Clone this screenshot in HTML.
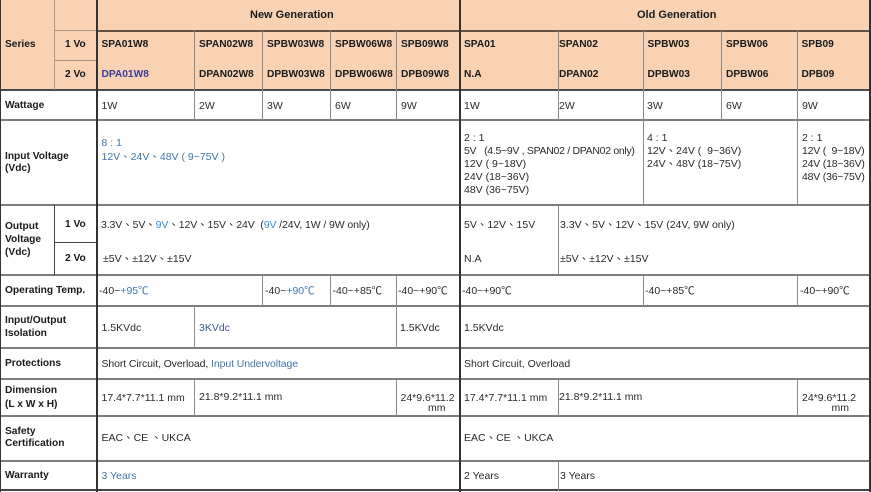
<!DOCTYPE html>
<html><head><meta charset="utf-8">
<style>
html,body{margin:0;padding:0;}
body{width:871px;height:492px;overflow:hidden;background:#fff;position:relative;font-family:"Liberation Sans","Noto Sans CJK TC",sans-serif;color:#222;}
.bg{position:absolute;background:#f9d2b4;}
.h{position:absolute;height:2px;background:#7c7c7c;}
.v{position:absolute;width:1px;background:#8a8a8a;}
.V{position:absolute;width:2px;background:#333;}
.t{position:absolute;white-space:nowrap;line-height:14px;font-size:10.5px;color:#2a2a2a;}
.b{position:absolute;white-space:nowrap;line-height:14px;font-size:10.2px;font-weight:bold;color:#1a1a1a;}
.g{font-size:11px;}
.bl{color:#4275ad;}
.bd{color:#3b3b9c;}
.bk{color:#3d5a8f;}
.lb{color:#3a8fd0;}
</style></head><body>
<div class="bg" style="left:0;top:0;width:871px;height:91px;"></div>

<div class="h" style="left:96px;top:30px;width:775px;background:#5e5249;"></div>
<div class="h" style="left:54px;top:30px;width:42px;height:1px;background:#a89484;"></div>
<div class="h" style="left:54px;top:60px;width:42px;height:1px;background:#a89484;"></div>
<div class="h" style="left:0;top:89px;width:871px;background:#4a4a4a;"></div>
<div class="h" style="left:0;top:119px;width:871px;"></div>
<div class="h" style="left:0;top:204px;width:871px;"></div>
<div class="h" style="left:54px;top:242px;width:42px;height:1px;background:#444;"></div>
<div class="h" style="left:0;top:274px;width:871px;"></div>
<div class="h" style="left:0;top:305px;width:871px;"></div>
<div class="h" style="left:0;top:347px;width:871px;"></div>
<div class="h" style="left:0;top:378px;width:871px;"></div>
<div class="h" style="left:0;top:415px;width:871px;"></div>
<div class="h" style="left:0;top:460px;width:871px;"></div>
<div class="h" style="left:0;top:489px;width:871px;background:#444;"></div>

<div class="v" style="left:54px;top:0;height:90px;background:#b09a88;"></div>
<div class="v" style="left:54px;top:205px;height:70px;background:#444;"></div>
<div class="v" style="left:194px;top:31px;height:89px;"></div>
<div class="v" style="left:262px;top:31px;height:89px;"></div>
<div class="v" style="left:330px;top:31px;height:89px;"></div>
<div class="v" style="left:396px;top:31px;height:89px;"></div>
<div class="v" style="left:558px;top:31px;height:89px;"></div>
<div class="v" style="left:643px;top:31px;height:89px;"></div>
<div class="v" style="left:721px;top:31px;height:89px;"></div>
<div class="v" style="left:797px;top:31px;height:89px;"></div>
<div class="v" style="left:643px;top:120px;height:85px;"></div>
<div class="v" style="left:797px;top:120px;height:85px;"></div>
<div class="v" style="left:558px;top:205px;height:70px;"></div>
<div class="v" style="left:262px;top:275px;height:31px;"></div>
<div class="v" style="left:330px;top:275px;height:31px;"></div>
<div class="v" style="left:396px;top:275px;height:31px;"></div>
<div class="v" style="left:643px;top:275px;height:31px;"></div>
<div class="v" style="left:797px;top:275px;height:31px;"></div>
<div class="v" style="left:194px;top:306px;height:42px;"></div>
<div class="v" style="left:396px;top:306px;height:42px;"></div>
<div class="v" style="left:194px;top:379px;height:37px;"></div>
<div class="v" style="left:396px;top:379px;height:37px;"></div>
<div class="v" style="left:558px;top:379px;height:37px;"></div>
<div class="v" style="left:797px;top:379px;height:37px;"></div>
<div class="v" style="left:558px;top:461px;height:30px;"></div>

<div class="V" style="left:96px;top:0;height:492px;"></div>
<div class="V" style="left:459px;top:0;height:492px;"></div>
<div class="V" style="left:0;top:0;height:492px;width:1px;"></div>
<div class="V" style="left:869px;top:0;height:492px;"></div>

<div class="b" style="left:5px;top:38px;">Series</div>
<div class="b" style="left:65px;top:38px;">1 Vo</div>
<div class="b" style="left:65px;top:68px;">2 Vo</div>
<div class="b g" style="left:250px;top:8px;">New Generation</div>
<div class="b g" style="left:637px;top:8px;">Old Generation</div>

<div class="b" style="left:101.5px;top:38px;">SPA01W8</div>
<div class="b" style="left:199px;top:38px;">SPAN02W8</div>
<div class="b" style="left:267px;top:38px;">SPBW03W8</div>
<div class="b" style="left:335px;top:38px;">SPBW06W8</div>
<div class="b" style="left:401px;top:38px;">SPB09W8</div>
<div class="b" style="left:464px;top:38px;">SPA01</div>
<div class="b" style="left:559px;top:38px;">SPAN02</div>
<div class="b" style="left:647.5px;top:38px;">SPBW03</div>
<div class="b" style="left:726px;top:38px;">SPBW06</div>
<div class="b" style="left:801.5px;top:38px;">SPB09</div>

<div class="b bd" style="left:101.5px;top:68px;">DPA01W8</div>
<div class="b" style="left:199px;top:68px;">DPAN02W8</div>
<div class="b" style="left:267px;top:68px;">DPBW03W8</div>
<div class="b" style="left:335px;top:68px;">DPBW06W8</div>
<div class="b" style="left:401px;top:68px;">DPB09W8</div>
<div class="b" style="left:464px;top:68px;">N.A</div>
<div class="b" style="left:559px;top:68px;">DPAN02</div>
<div class="b" style="left:647.5px;top:68px;">DPBW03</div>
<div class="b" style="left:726px;top:68px;">DPBW06</div>
<div class="b" style="left:801.5px;top:68px;">DPB09</div>

<div class="b" style="left:5px;top:99px;">Wattage</div>
<div class="t" style="left:101.5px;top:99px;">1W</div>
<div class="t" style="left:199px;top:99px;">2W</div>
<div class="t" style="left:267px;top:99px;">3W</div>
<div class="t" style="left:335px;top:99px;">6W</div>
<div class="t" style="left:401px;top:99px;">9W</div>
<div class="t" style="left:464px;top:99px;">1W</div>
<div class="t" style="left:559px;top:99px;">2W</div>
<div class="t" style="left:647px;top:99px;">3W</div>
<div class="t" style="left:726px;top:99px;">6W</div>
<div class="t" style="left:802px;top:99px;">9W</div>

<div class="b" style="left:5px;top:149.5px;">Input Voltage</div>
<div class="b" style="left:5px;top:161.5px;">(Vdc)</div>
<div class="t bl" style="left:101.5px;top:136px;">8 : 1</div>
<div class="t bl" style="left:101.5px;top:150px;">12V、24V、48V ( 9~75V )</div>

<div class="t" style="left:464px;top:130.5px;">2 : 1</div>
<div class="t" style="left:464px;top:143.5px;letter-spacing:-0.3px;">5V&nbsp;&nbsp; (4.5~9V , SPAN02 / DPAN02 only)</div>
<div class="t" style="left:464px;top:156.5px;">12V ( 9~18V)</div>
<div class="t" style="left:464px;top:169.5px;">24V (18~36V)</div>
<div class="t" style="left:464px;top:182.5px;">48V (36~75V)</div>

<div class="t" style="left:647px;top:130.5px;">4 : 1</div>
<div class="t" style="left:647px;top:143.5px;">12V、24V (&nbsp; 9~36V)</div>
<div class="t" style="left:647px;top:156.5px;">24V、48V (18~75V)</div>

<div class="t" style="left:802px;top:130.5px;">2 : 1</div>
<div class="t" style="left:802px;top:143.5px;letter-spacing:-0.2px;">12V (&nbsp; 9~18V)</div>
<div class="t" style="left:802px;top:156.5px;letter-spacing:-0.2px;">24V (18~36V)</div>
<div class="t" style="left:802px;top:169.5px;letter-spacing:-0.2px;">48V (36~75V)</div>

<div class="b" style="left:5px;top:220px;">Output</div>
<div class="b" style="left:5px;top:233px;">Voltage</div>
<div class="b" style="left:5px;top:245.5px;">(Vdc)</div>
<div class="b" style="left:65px;top:218px;">1 Vo</div>
<div class="b" style="left:65px;top:252px;">2 Vo</div>
<div class="t" style="left:101px;top:218px;letter-spacing:-0.1px;">3.3V、5V、<span class="lb">9V</span>、12V、15V、24V&nbsp; (<span class="lb">9V</span> /24V, 1W / 9W only)</div>
<div class="t" style="left:103px;top:252px;">±5V、±12V、±15V</div>
<div class="t" style="left:464px;top:218px;">5V、12V、15V</div>
<div class="t" style="left:464px;top:252px;">N.A</div>
<div class="t" style="left:560px;top:218px;">3.3V、5V、12V、15V (24V, 9W only)</div>
<div class="t" style="left:560px;top:252px;">±5V、±12V、±15V</div>

<div class="b" style="left:5px;top:283.5px;">Operating Temp.</div>
<div class="t" style="left:99px;top:283.5px;">-40~<span class="bl">+95℃</span></div>
<div class="t" style="left:265px;top:283.5px;">-40~<span class="bl">+90℃</span></div>
<div class="t" style="left:332.5px;top:283.5px;">-40~+85℃</div>
<div class="t" style="left:398px;top:283.5px;">-40~+90℃</div>
<div class="t" style="left:462px;top:283.5px;">-40~+90℃</div>
<div class="t" style="left:645px;top:283.5px;">-40~+85℃</div>
<div class="t" style="left:800px;top:283.5px;">-40~+90℃</div>

<div class="b" style="left:5px;top:314px;">Input/Output</div>
<div class="b" style="left:5px;top:326.5px;">Isolation</div>
<div class="t" style="left:101.5px;top:320.5px;">1.5KVdc</div>
<div class="t bk" style="left:199px;top:320.5px;">3KVdc</div>
<div class="t" style="left:400px;top:320.5px;">1.5KVdc</div>
<div class="t" style="left:464px;top:320.5px;">1.5KVdc</div>

<div class="b" style="left:5px;top:356.5px;">Protections</div>
<div class="t" style="left:101.5px;top:356.5px;letter-spacing:-0.1px;">Short Circuit, Overload, <span class="bl">Input Undervoltage</span></div>
<div class="t" style="left:464px;top:356.5px;">Short Circuit, Overload</div>

<div class="b" style="left:5px;top:384px;">Dimension</div>
<div class="b" style="left:5px;top:397.5px;">(L x W x H)</div>
<div class="t" style="left:101.5px;top:390.5px;">17.4*7.7*11.1 mm</div>
<div class="t" style="left:199px;top:390px;">21.8*9.2*11.1 mm</div>
<div class="t" style="left:400.5px;top:391px;">24*9.6*11.2</div>
<div class="t" style="left:428px;top:401px;">mm</div>
<div class="t" style="left:464px;top:390.5px;">17.4*7.7*11.1 mm</div>
<div class="t" style="left:559px;top:390px;">21.8*9.2*11.1 mm</div>
<div class="t" style="left:802px;top:391px;">24*9.6*11.2</div>
<div class="t" style="left:831.5px;top:401px;">mm</div>

<div class="b" style="left:5px;top:424.5px;">Safety</div>
<div class="b" style="left:5px;top:437px;">Certification</div>
<div class="t" style="left:101.5px;top:430.5px;">EAC、CE 、UKCA</div>
<div class="t" style="left:464px;top:430.5px;">EAC、CE 、UKCA</div>

<div class="b" style="left:5px;top:469px;">Warranty</div>
<div class="t bl" style="left:101.5px;top:469px;">3 Years</div>
<div class="t" style="left:464px;top:469px;">2 Years</div>
<div class="t" style="left:560px;top:469px;">3 Years</div>
</body></html>
